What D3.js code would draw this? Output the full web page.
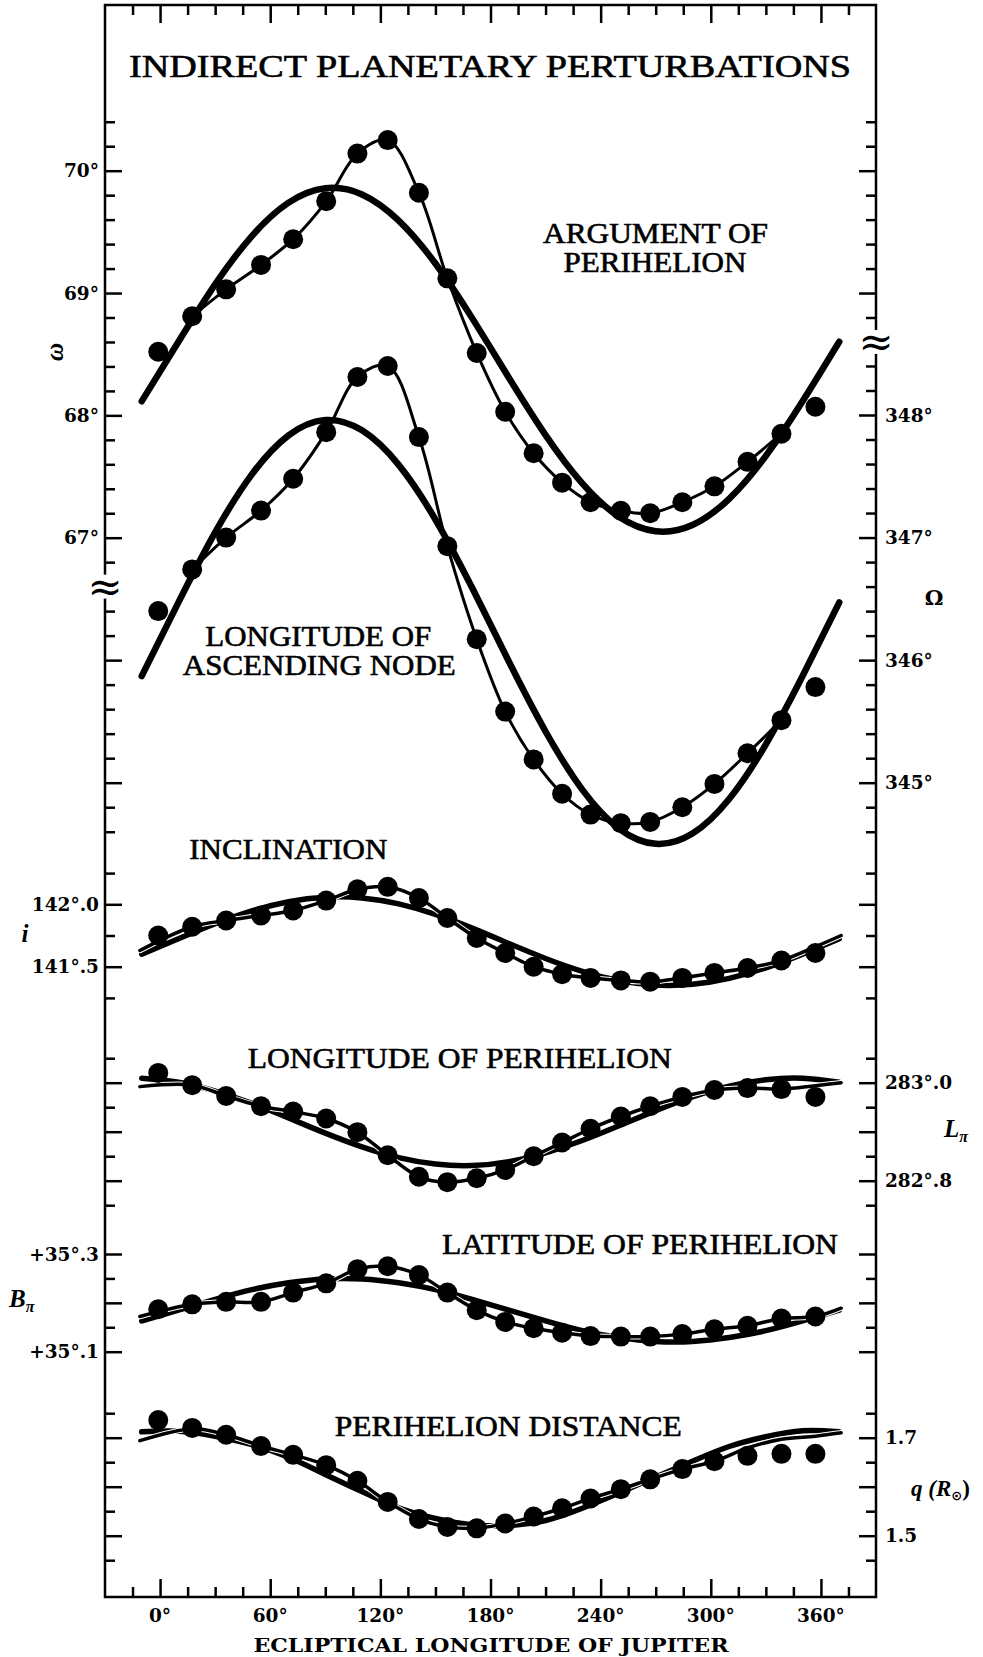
<!DOCTYPE html>
<html><head><meta charset="utf-8">
<script src="https://cdn.jsdelivr.net/npm/d3@7"></script>
<style>body{margin:0;background:#fff}svg{display:block}</style>
</head><body>
<script>
// ---------------- DATA ----------------
const fitTheta = [-10, 10, 30, 50, 70, 90, 110, 130, 150, 170, 190, 210, 230, 250, 270, 290, 310, 330, 350, 370];
const dotTheta = [-1, 17.5, 36, 55, 72.5, 90.5, 107.5, 124, 141, 156.5, 172.5, 188, 203.5, 219, 234.5, 251, 267, 284.5, 302, 320, 338.5, 357];
const innerTheta = [17.5, 36, 55, 72.5, 90.5, 107.5, 124, 141, 156.5, 172.5, 188, 203.5, 219, 234.5, 251, 267, 284.5, 302, 320, 338.5];
const thinTheta = [-11, 17.5, 36, 55, 72.5, 90.5, 107.5, 124, 141, 156.5, 172.5, 188, 203.5, 219, 234.5, 251, 267, 284.5, 302, 320, 338.5, 357, 371];

const omegaDots = [68.52, 68.81, 69.03, 69.23, 69.44, 69.75, 70.14, 70.25, 69.82, 69.12, 68.51, 68.03, 67.69, 67.45, 67.29, 67.22, 67.20, 67.29, 67.42, 67.62, 67.85, 68.07];
const omegaThin = [68.81, 69.03, 69.23, 69.44, 69.75, 70.14, 70.25, 69.82, 69.12, 68.51, 68.03, 67.69, 67.45, 67.29, 67.22, 67.20, 67.29, 67.42, 67.62, 67.85];
const omegaFit = [68.115, 68.602, 69.071, 69.466, 69.739, 69.857, 69.806, 69.592, 69.241, 68.795, 68.308, 67.839, 67.444, 67.171, 67.053, 67.104, 67.318, 67.669, 68.115, 68.602];

const nodeDots = [346.40, 346.74, 347.00, 347.22, 347.48, 347.86, 348.31, 348.40, 347.82, 346.93, 346.17, 345.58, 345.19, 344.91, 344.74, 344.67, 344.68, 344.80, 344.99, 345.24, 345.51, 345.78];
const nodeThin = [346.74, 347.00, 347.22, 347.48, 347.86, 348.31, 348.40, 347.82, 346.93, 346.17, 345.58, 345.19, 344.91, 344.74, 344.67, 344.68, 344.80, 344.99, 345.24, 345.51];
const nodeFit = [345.870, 346.471, 347.042, 347.516, 347.834, 347.959, 347.875, 347.593, 347.147, 346.590, 345.989, 345.418, 344.944, 344.626, 344.501, 344.585, 344.867, 345.313, 345.870, 346.471];

const incDots = [141.75, 141.82, 141.87, 141.91, 141.95, 142.03, 142.12, 142.14, 142.05, 141.89, 141.73, 141.61, 141.50, 141.44, 141.41, 141.39, 141.38, 141.41, 141.45, 141.49, 141.55, 141.61];
const incThin = [141.63, 141.82, 141.87, 141.91, 141.95, 142.03, 142.12, 142.14, 142.05, 141.89, 141.73, 141.61, 141.50, 141.44, 141.41, 141.39, 141.38, 141.41, 141.45, 141.49, 141.55, 141.66, 141.75];
const incFit = [141.601, 141.724, 141.844, 141.947, 142.021, 142.057, 142.051, 142.003, 141.919, 141.809, 141.686, 141.566, 141.463, 141.389, 141.353, 141.359, 141.407, 141.491, 141.601, 141.724];

const lpiDots = [283.020, 282.995, 282.973, 282.952, 282.941, 282.927, 282.899, 282.852, 282.808, 282.797, 282.805, 282.822, 282.850, 282.878, 282.906, 282.931, 282.952, 282.971, 282.985, 282.989, 282.987, 282.971];
const lpiThin = [282.992, 282.995, 282.973, 282.952, 282.941, 282.927, 282.899, 282.852, 282.808, 282.797, 282.805, 282.822, 282.850, 282.878, 282.906, 282.931, 282.952, 282.971, 282.985, 282.989, 282.987, 282.994, 283.000];
const lpiFit = [283.009, 283.001, 282.983, 282.958, 282.928, 282.897, 282.869, 282.847, 282.834, 282.831, 282.839, 282.857, 282.882, 282.912, 282.943, 282.971, 282.993, 283.006, 283.009, 283.001];

const bpiDots = [35.187, 35.197, 35.202, 35.202, 35.221, 35.240, 35.269, 35.275, 35.257, 35.221, 35.185, 35.161, 35.148, 35.139, 35.132, 35.131, 35.131, 35.136, 35.146, 35.153, 35.168, 35.172];
const bpiThin = [35.172, 35.197, 35.202, 35.202, 35.221, 35.240, 35.269, 35.275, 35.257, 35.221, 35.185, 35.161, 35.148, 35.139, 35.132, 35.131, 35.131, 35.136, 35.146, 35.153, 35.168, 35.172, 35.189];
const bpiFit = [35.163, 35.185, 35.207, 35.227, 35.241, 35.249, 35.249, 35.241, 35.227, 35.207, 35.185, 35.163, 35.143, 35.129, 35.121, 35.121, 35.129, 35.143, 35.163, 35.185];

const qDots = [1.736, 1.720, 1.706, 1.683, 1.665, 1.644, 1.612, 1.569, 1.534, 1.518, 1.515, 1.525, 1.539, 1.556, 1.576, 1.595, 1.615, 1.636, 1.652, 1.663, 1.667, 1.667];
const qThin = [1.694, 1.718, 1.706, 1.683, 1.665, 1.644, 1.612, 1.569, 1.534, 1.518, 1.515, 1.525, 1.539, 1.556, 1.576, 1.595, 1.615, 1.636, 1.652, 1.679, 1.697, 1.703, 1.710];
const qFit = [1.712, 1.713, 1.703, 1.686, 1.660, 1.625, 1.590, 1.557, 1.535, 1.522, 1.521, 1.531, 1.556, 1.587, 1.620, 1.652, 1.682, 1.702, 1.714, 1.712];

const xMajorTicks = [0, 60, 120, 180, 240, 300, 360];
const xMinorTicks = [-15, 15, 30, 45, 75, 90, 105, 135, 150, 165, 195, 210, 225, 255, 270, 285, 315, 330, 345, 375];
const xTickLabels = ["0°", "60°", "120°", "180°", "240°", "300°", "360°"];

const omegaMajorL = [70, 69, 68, 67];
const omegaLabelsL = ["70°", "69°", "68°", "67°"];
const omegaMinorL = [70.4, 70.2, 69.8, 69.6, 69.4, 69.2, 68.8, 68.6, 68.4, 68.2, 67.8, 67.6, 67.4, 67.2, 66.8];
const nodeMajorL = [346, 345];
const nodeMinorL = [346.4, 346.2, 345.8, 345.6, 345.4, 345.2, 344.8, 344.6];
const omegaMajorR = [70, 69];
const omegaMinorR = [70.4, 70.2, 69.8, 69.6, 69.4, 69.2, 68.8];
const nodeMajorR = [348, 347, 346, 345];
const nodeLabelsR = ["348°", "347°", "346°", "345°"];
const nodeMinorR = [348.4, 348.2, 347.8, 347.6, 347.4, 347.2, 346.8, 346.6, 346.4, 346.2, 345.8, 345.6, 345.4, 345.2, 344.8, 344.6];
const incMajor = [142.0, 141.5];
const incLabels = ["142°.0", "141°.5"];
const incMinor = [142.25, 141.75, 141.25];
const lpiMajor = [283.0, 282.9, 282.8];
const lpiMinor = [283.05, 282.95, 282.85, 282.75];
const lpiLabelTicks = [283.0, 282.8];
const lpiLabels = ["283°.0", "282°.8"];
const bpiMajor = [35.3, 35.2, 35.1];
const bpiMinor = [35.25, 35.15];
const bpiLabelTicks = [35.3, 35.1];
const bpiLabels = ["+35°.3", "+35°.1"];
const qMajor = [1.7, 1.6, 1.5];
const qMinor = [1.75, 1.65, 1.55, 1.45];
const qLabelTicks = [1.7, 1.5];
const qLabels = ["1.7", "1.5"];

// ---------------- LAYOUT ----------------
const W = 983, H = 1657;
const L = 105, R = 876, T = 5, B = 1597;
const svg = d3.select("body").append("svg").attr("width", W).attr("height", H);
const x = d3.scaleLinear().domain([-30, 390]).range([L, R]);

const yOmega = d3.scaleLinear().domain([67, 70]).range([537.7, 170.7]);
const yNode = d3.scaleLinear().domain([345, 348]).range([782.7, 415]);
const yInc = d3.scaleLinear().domain([141.5, 142]).range([966.7, 904.3]);
const yLpi = d3.scaleLinear().domain([282.8, 283]).range([1180.7, 1082.7]);
const yBpi = d3.scaleLinear().domain([35.1, 35.3]).range([1351.7, 1254]);
const yQ = d3.scaleLinear().domain([1.5, 1.7]).range([1535.7, 1437.7]);

const MAJ = 17, MIN = 10;
const tickFont = "'DejaVu Serif', serif";

function ticks(scale, vals, side, len) {
  const ax = side === "left" ? d3.axisLeft(scale) : d3.axisRight(scale);
  ax.tickValues(vals).tickSize(-len).tickFormat("");
  const g = svg.append("g").attr("transform", `translate(${side === "left" ? L : R},0)`).call(ax);
  g.select(".domain").remove();
  g.selectAll("line").attr("stroke", "#000").attr("stroke-width", 2.5);
}
function labels(scale, vals, texts, side) {
  svg.append("g").selectAll("text").data(vals).join("text")
    .attr("x", side === "left" ? 99 : 885)
    .attr("y", d => scale(d) + 6.5)
    .attr("text-anchor", side === "left" ? "end" : "start")
    .attr("font-family", tickFont).attr("font-weight", "bold").attr("font-size", 18.5)
    .text((d, i) => texts[i]);
}

// y ticks
ticks(yOmega, omegaMajorL, "left", MAJ); ticks(yOmega, omegaMinorL, "left", MIN);
ticks(yNode, nodeMajorL, "left", MAJ); ticks(yNode, nodeMinorL, "left", MIN);
ticks(yOmega, omegaMajorR, "right", MAJ); ticks(yOmega, omegaMinorR, "right", MIN);
ticks(yNode, nodeMajorR, "right", MAJ); ticks(yNode, nodeMinorR, "right", MIN);
["left", "right"].forEach(s => {
  ticks(yInc, incMajor, s, MAJ); ticks(yInc, incMinor, s, MIN);
  ticks(yLpi, lpiMajor, s, MAJ); ticks(yLpi, lpiMinor, s, MIN);
  ticks(yBpi, bpiMajor, s, MAJ); ticks(yBpi, bpiMinor, s, MIN);
  ticks(yQ, qMajor, s, MAJ); ticks(yQ, qMinor, s, MIN);
});
labels(yOmega, omegaMajorL, omegaLabelsL, "left");
labels(yNode, nodeMajorR, nodeLabelsR, "right");
labels(yInc, incMajor, incLabels, "left");
labels(yLpi, lpiLabelTicks, lpiLabels, "right");
labels(yBpi, bpiLabelTicks, bpiLabels, "left");
labels(yQ, qLabelTicks, qLabels, "right");

// x ticks (bottom and top, inward)
function xticks(vals, len) {
  const gb = svg.append("g").attr("transform", `translate(0,${B})`)
    .call(d3.axisBottom(x).tickValues(vals).tickSize(-len).tickFormat(""));
  const gt = svg.append("g").attr("transform", `translate(0,${T})`)
    .call(d3.axisTop(x).tickValues(vals).tickSize(-len).tickFormat(""));
  [gb, gt].forEach(g => { g.select(".domain").remove(); g.selectAll("line").attr("stroke", "#000").attr("stroke-width", 2.5); });
}
xticks(xMajorTicks, 18); xticks(xMinorTicks, 10);
svg.append("g").selectAll("text").data(xMajorTicks).join("text")
  .attr("x", d => x(d)).attr("y", 1622).attr("text-anchor", "middle")
  .attr("font-family", tickFont).attr("font-weight", "bold").attr("font-size", 18.5)
  .text((d, i) => xTickLabels[i]);
svg.append("text").attr("x", 491).attr("y", 1652).attr("text-anchor", "middle")
  .attr("font-family", tickFont).attr("font-weight", "bold").attr("font-size", 19)
  .attr("textLength", 475).attr("lengthAdjust", "spacingAndGlyphs")
  .text("ECLIPTICAL LONGITUDE OF JUPITER");

// frame
svg.append("rect").attr("x", L).attr("y", T).attr("width", R - L).attr("height", B - T)
  .attr("fill", "none").attr("stroke", "#000").attr("stroke-width", 2.5);

// axis breaks
function brk(cx, cy) {
  svg.append("rect").attr("x", cx - 4).attr("y", cy - 12).attr("width", 8).attr("height", 24).attr("fill", "#fff");
  svg.append("text").attr("x", cx).attr("y", cy + 14).attr("text-anchor", "middle")
    .attr("font-family", "'DejaVu Serif', serif").attr("font-size", 42).text("≈");
}
brk(L, yOmega(66.6));
brk(R, yOmega(68.6));

// ---------------- CURVES ----------------
const fitGen = (sc) => d3.line().x(d => x(d[0])).y(d => sc(d[1])).curve(d3.curveNatural);
const thinGen = (sc) => d3.line().x(d => x(d[0])).y(d => sc(d[1])).curve(d3.curveCatmullRom.alpha(0.5));
function panel(sc, fitVals, thinTh, thinVals, dots, thickW, thinW, halo) {
  const fit = fitTheta.map((t, i) => [t, fitVals[i]]);
  const thin = thinTh.map((t, i) => [t, thinVals[i]]);
  svg.append("path").attr("d", fitGen(sc)(fit)).attr("fill", "none")
    .attr("stroke", "#000").attr("stroke-width", thickW).attr("stroke-linecap", "round");
  if (halo) svg.append("path").attr("d", thinGen(sc)(thin)).attr("fill", "none")
    .attr("stroke", "#fff").attr("stroke-width", thinW + 2).attr("stroke-linecap", "round");
  svg.append("path").attr("d", thinGen(sc)(thin)).attr("fill", "none")
    .attr("stroke", "#000").attr("stroke-width", thinW).attr("stroke-linecap", "round");
  svg.append("g").selectAll("circle").data(dots).join("circle")
    .attr("cx", (d, i) => x(dotTheta[i])).attr("cy", d => sc(d)).attr("r", 10).attr("fill", "#000");
}
panel(yOmega, omegaFit, innerTheta, omegaThin, omegaDots, 6.5, 3, false);
panel(yNode, nodeFit, innerTheta, nodeThin, nodeDots, 6.5, 3, false);
panel(yInc, incFit, thinTheta, incThin, incDots, 5.5, 3.5, true);
panel(yLpi, lpiFit, thinTheta, lpiThin, lpiDots, 5.5, 3.5, true);
panel(yBpi, bpiFit, thinTheta, bpiThin, bpiDots, 5.5, 3.5, true);
panel(yQ, qFit, thinTheta, qThin, qDots, 5.5, 3.5, true);

// ---------------- TEXT ----------------
const serif = "'Liberation Serif', serif";
function lab(txt, cx, base, w, size) {
  svg.append("text").attr("x", cx).attr("y", base).attr("text-anchor", "middle")
    .attr("font-family", serif).attr("font-size", size)
    .attr("stroke", "#000").attr("stroke-width", 0.6)
    .attr("textLength", w).attr("lengthAdjust", "spacingAndGlyphs").text(txt);
}
lab("INDIRECT PLANETARY PERTURBATIONS", 490, 77, 722, 31);
lab("ARGUMENT OF", 655.5, 242.5, 225, 28.5);
lab("PERIHELION", 655, 271.7, 183, 28.5);
lab("LONGITUDE OF", 318.3, 646, 226, 28.5);
lab("ASCENDING NODE", 319.3, 675, 273, 28.5);
lab("INCLINATION", 288.3, 859.3, 198, 28.5);
lab("LONGITUDE OF PERIHELION", 459.7, 1068.3, 424, 28.5);
lab("LATITUDE OF PERIHELION", 640, 1254, 396, 28.5);
lab("PERIHELION DISTANCE", 508.3, 1435.7, 347, 28.5);

const ital = (sel) => sel.attr("font-family", serif).attr("font-style", "italic").attr("font-weight", "bold");
ital(svg.append("text").attr("transform", "translate(63,352) rotate(-90)").attr("text-anchor", "middle")
  .attr("font-size", 25).text("ω"));
svg.append("text").attr("x", 934).attr("y", 605).attr("text-anchor", "middle")
  .attr("font-family", tickFont).attr("font-weight", "bold").attr("font-size", 21).text("Ω");
ital(svg.append("text").attr("x", 25).attr("y", 942).attr("text-anchor", "middle").attr("font-size", 25).text("i"));
const lp = ital(svg.append("text").attr("x", 944).attr("y", 1137).attr("font-size", 25));
lp.append("tspan").text("L");
lp.append("tspan").attr("dy", 5).attr("font-size", 16).text("π");
const bp = ital(svg.append("text").attr("x", 9).attr("y", 1307).attr("font-size", 25));
bp.append("tspan").text("B");
bp.append("tspan").attr("dy", 5).attr("font-size", 16).text("π");
const qt = ital(svg.append("text").attr("x", 911).attr("y", 1496).attr("font-size", 23));
qt.append("tspan").text("q (");
qt.append("tspan").text("R");
qt.append("tspan").attr("dy", 4).attr("font-size", 13).attr("font-style", "normal").attr("font-family", "'DejaVu Sans', sans-serif").text("⊙");
qt.append("tspan").attr("dy", -4).attr("font-style", "normal").text(")");
</script>
</body></html>
